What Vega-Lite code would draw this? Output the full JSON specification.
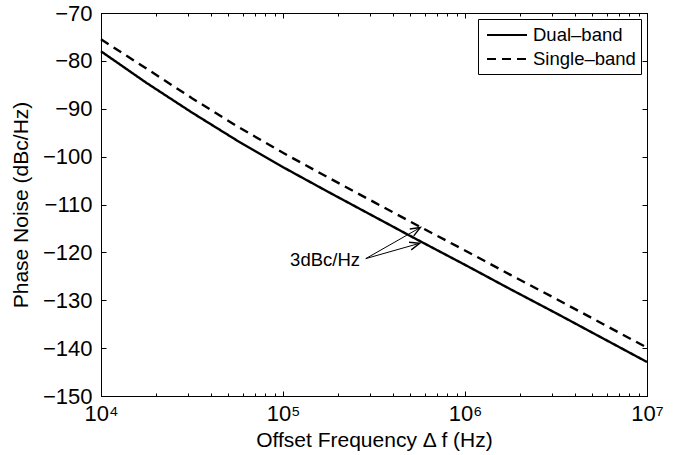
{
  "$schema": "https://vega.github.io/schema/vega-lite/v6.json",
  "autosize": "none",
  "width": 546,
  "height": 383,
  "padding": {"left": 101, "top": 13, "right": 28, "bottom": 59},
  "background": "white",
  "config": {
    "font": "Liberation Sans",
    "view": {"stroke": "black", "strokeWidth": 1},
    "axis": {
      "domainColor": "black",
      "tickColor": "black",
      "labelColor": "black",
      "titleColor": "black",
      "labelFont": "Liberation Sans",
      "titleFont": "Liberation Sans",
      "labelFontSize": 22,
      "titleFontSize": 21,
      "titleFontWeight": "normal",
      "grid": false
    }
  },
  "datasets": {
    "curves": [
      {"f": 10000, "pn": -78.0, "band": "Dual–band"},
      {"f": 17783, "pn": -84.6, "band": "Dual–band"},
      {"f": 31623, "pn": -90.8, "band": "Dual–band"},
      {"f": 56234, "pn": -96.7, "band": "Dual–band"},
      {"f": 100000, "pn": -102.2, "band": "Dual–band"},
      {"f": 177828, "pn": -107.4, "band": "Dual–band"},
      {"f": 316228, "pn": -112.5, "band": "Dual–band"},
      {"f": 562341, "pn": -117.6, "band": "Dual–band"},
      {"f": 1000000, "pn": -122.6, "band": "Dual–band"},
      {"f": 1778279, "pn": -127.7, "band": "Dual–band"},
      {"f": 3162278, "pn": -132.7, "band": "Dual–band"},
      {"f": 5623413, "pn": -137.8, "band": "Dual–band"},
      {"f": 10000000, "pn": -142.9, "band": "Dual–band"},
      {"f": 10000, "pn": -75.5, "band": "Single–band"},
      {"f": 17783, "pn": -81.6, "band": "Single–band"},
      {"f": 31623, "pn": -87.8, "band": "Single–band"},
      {"f": 56234, "pn": -93.7, "band": "Single–band"},
      {"f": 100000, "pn": -99.2, "band": "Single–band"},
      {"f": 177828, "pn": -104.4, "band": "Single–band"},
      {"f": 316228, "pn": -109.5, "band": "Single–band"},
      {"f": 562341, "pn": -114.6, "band": "Single–band"},
      {"f": 1000000, "pn": -119.6, "band": "Single–band"},
      {"f": 1778279, "pn": -124.7, "band": "Single–band"},
      {"f": 3162278, "pn": -129.7, "band": "Single–band"},
      {"f": 5623413, "pn": -134.8, "band": "Single–band"},
      {"f": 10000000, "pn": -139.9, "band": "Single–band"}
    ],
    "arrows": [
      {"f0": 285000, "p0": -121.3, "f1": 569000, "p1": -114.8, "which": "upper"},
      {"f0": 285000, "p0": -121.3, "f1": 564000, "p1": -118.1, "which": "lower"}
    ],
    "note": [
      {"f": 265000, "pn": -121.6, "label": "3dBc/Hz"}
    ]
  },
  "layer": [
    {
      "data": {"name": "curves"},
      "mark": {"type": "line", "strokeWidth": 2.4},
      "encoding": {
        "x": {
          "field": "f", "type": "quantitative",
          "scale": {"type": "log", "domain": [10000, 10000000], "nice": false},
          "axis": {
            "orient": "bottom",
            "title": "Offset Frequency Δ f (Hz)",
            "titlePadding": 5,
            "values": [10000, 100000, 1000000, 10000000],
            "labelExpr": "'10' + (datum.value == 10000 ? '⁴' : datum.value == 100000 ? '⁵' : datum.value == 1000000 ? '⁶' : '⁷')",
            "tickSize": -5,
            "labelPadding": 12,
            "labelFlush": false,
            "labelOverlap": false
          }
        },
        "y": {
          "field": "pn", "type": "quantitative",
          "scale": {"domain": [-150, -70], "nice": false},
          "axis": {
            "orient": "left",
            "title": "Phase Noise (dBc/Hz)",
            "titlePadding": 11,
            "values": [-150, -140, -130, -120, -110, -100, -90, -80, -70],
            "tickSize": -5,
            "labelPadding": 14,
            "labelFlush": false,
            "labelOverlap": false
          }
        },
        "color": {
          "field": "band", "type": "nominal",
          "scale": {"domain": ["Dual–band", "Single–band"], "range": ["black", "black"]},
          "legend": {
            "title": null,
            "orient": "top-right",
            "offset": 6,
            "symbolType": "M-2,0L2,0",
            "symbolSize": 400,
            "symbolOffset": 13,
            "symbolStrokeWidth": 2,
            "symbolFillColor": "transparent",
            "labelFontSize": 18.5,
            "labelColor": "black",
            "labelFont": "Liberation Sans",
            "strokeColor": "black",
            "fillColor": "white",
            "padding": 5,
            "rowPadding": 3,
            "labelOffset": 15,
            "cornerRadius": 0
          }
        },
        "strokeDash": {
          "field": "band", "type": "nominal",
          "scale": {"domain": ["Dual–band", "Single–band"], "range": [[1, 0], [9, 6]]},
          "legend": {
            "title": null
          }
        }
      }
    },
    {
      "data": {"name": "curves"},
      "mark": {"type": "point", "opacity": 0},
      "encoding": {
        "x": {
          "field": "f", "type": "quantitative",
          "scale": {"type": "log", "domain": [10000, 10000000], "nice": false},
          "axis": {
            "orient": "bottom", "title": null, "labels": false, "domain": false,
            "values": [20000, 30000, 40000, 50000, 60000, 70000, 80000, 90000, 200000, 300000, 400000, 500000, 600000, 700000, 800000, 900000, 2000000, 3000000, 4000000, 5000000, 6000000, 7000000, 8000000, 9000000],
            "tickSize": -3
          }
        },
        "y": {
          "field": "pn", "type": "quantitative",
          "scale": {"domain": [-150, -70], "nice": false},
          "axis": {
            "orient": "right", "title": null, "labels": false,
            "values": [-150, -140, -130, -120, -110, -100, -90, -80, -70],
            "tickSize": -5
          }
        }
      }
    },
    {
      "data": {"name": "curves"},
      "mark": {"type": "point", "opacity": 0},
      "encoding": {
        "x": {
          "field": "f", "type": "quantitative",
          "scale": {"type": "log", "domain": [10000, 10000000], "nice": false},
          "axis": {
            "orient": "top", "title": null, "labels": false,
            "values": [10000, 100000, 1000000, 10000000],
            "tickSize": -5
          }
        },
        "y": {"field": "pn", "type": "quantitative", "axis": null}
      }
    },
    {
      "data": {"name": "curves"},
      "mark": {"type": "point", "opacity": 0},
      "encoding": {
        "x": {
          "field": "f", "type": "quantitative",
          "scale": {"type": "log", "domain": [10000, 10000000], "nice": false},
          "axis": {
            "orient": "top", "title": null, "labels": false, "domain": false,
            "values": [20000, 30000, 40000, 50000, 60000, 70000, 80000, 90000, 200000, 300000, 400000, 500000, 600000, 700000, 800000, 900000, 2000000, 3000000, 4000000, 5000000, 6000000, 7000000, 8000000, 9000000],
            "tickSize": -3
          }
        },
        "y": {"field": "pn", "type": "quantitative", "axis": null}
      }
    },
    {
      "data": {"name": "arrows"},
      "mark": {"type": "rule", "color": "black", "strokeWidth": 1},
      "encoding": {
        "x": {"field": "f0", "type": "quantitative", "axis": null},
        "y": {"field": "p0", "type": "quantitative", "axis": null},
        "x2": {"field": "f1"},
        "y2": {"field": "p1"}
      }
    },
    {
      "data": {"name": "arrows"},
      "transform": [{"filter": "datum.which == 'upper'"}],
      "mark": {"type": "point", "shape": "M-1,-0.4L0,0L-1,0.4", "size": 400, "filled": false, "stroke": "black", "strokeWidth": 1.4, "opacity": 1, "angle": 330.3},
      "encoding": {
        "x": {"field": "f1", "type": "quantitative", "axis": null},
        "y": {"field": "p1", "type": "quantitative", "axis": null}
      }
    },
    {
      "data": {"name": "arrows"},
      "transform": [{"filter": "datum.which == 'lower'"}],
      "mark": {"type": "point", "shape": "M-1,-0.4L0,0L-1,0.4", "size": 400, "filled": false, "stroke": "black", "strokeWidth": 1.4, "opacity": 1, "angle": 344},
      "encoding": {
        "x": {"field": "f1", "type": "quantitative", "axis": null},
        "y": {"field": "p1", "type": "quantitative", "axis": null}
      }
    },
    {
      "data": {"name": "note"},
      "mark": {"type": "text", "align": "right", "baseline": "middle", "fontSize": 18.5, "font": "Liberation Sans", "color": "black"},
      "encoding": {
        "x": {"field": "f", "type": "quantitative", "axis": null},
        "y": {"field": "pn", "type": "quantitative", "axis": null},
        "text": {"field": "label"}
      }
    }
  ],
  "resolve": {"axis": {"x": "independent", "y": "independent"}}
}
